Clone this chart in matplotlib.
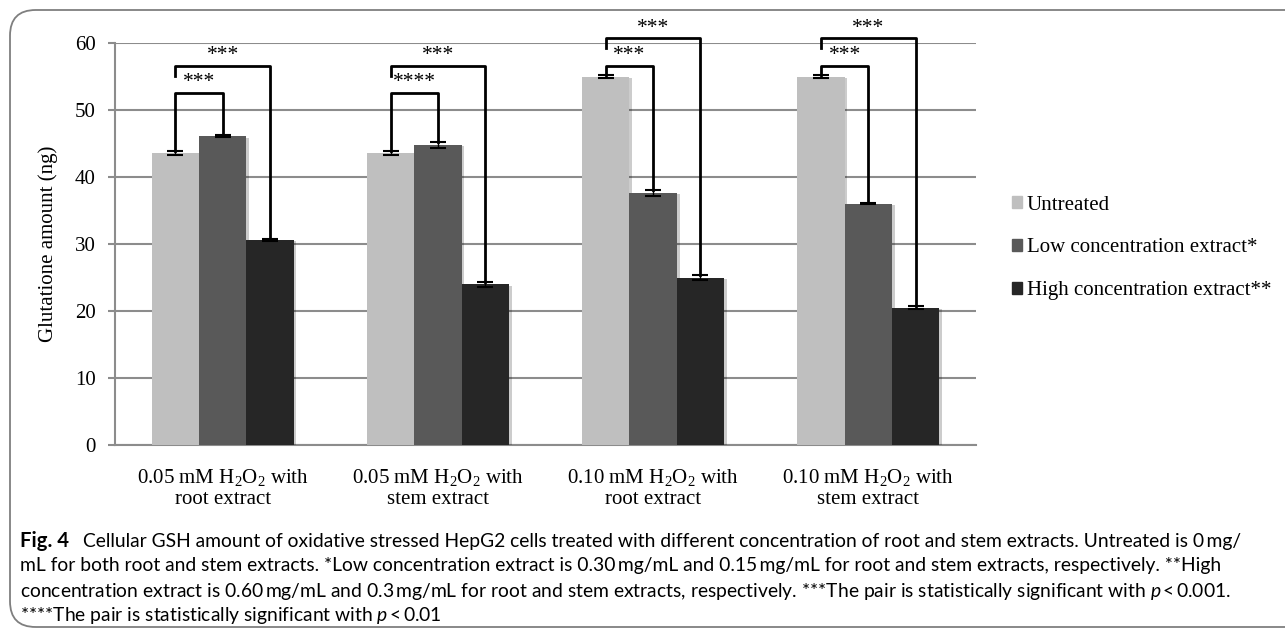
import numpy as np
import matplotlib.pyplot as plt
from matplotlib.patches import FancyBboxPatch, Rectangle
import matplotlib.patheffects as pe

plt.rcParams['font.family'] = ['Liberation Serif', 'DejaVu Serif']
plt.rcParams['mathtext.fontset'] = 'custom'
plt.rcParams['mathtext.it'] = 'Lato:italic'
plt.rcParams['mathtext.rm'] = 'Lato'

groups = ["0.05 mM $\\mathregular{H_2O_2}$ with\nroot extract",
          "0.05 mM $\\mathregular{H_2O_2}$ with\nstem extract",
          "0.10 mM $\\mathregular{H_2O_2}$ with\nroot extract",
          "0.10 mM $\\mathregular{H_2O_2}$ with\nstem extract"]
series = ["Untreated", "Low concentration extract*", "High concentration extract**"]
untreated = [43.6, 43.6, 55.0, 55.0]
low = [46.1, 44.8, 37.6, 36.0]
high = [30.6, 24.0, 25.0, 20.5]
untreated_err = [0.3, 0.3, 0.2, 0.2]
low_err = [0.2, 0.4, 0.4, 0.1]
high_err = [0.2, 0.4, 0.4, 0.2]

# significance brackets: untreated vs low (inner), untreated vs high (outer)
inner_labels = ["***", "****", "***", "***"]
outer_labels = ["***", "***", "***", "***"]
inner_level = [52.6, 52.6, 56.6, 56.6]
outer_level = [56.6, 56.6, 60.7, 60.7]

colors = ["#bfbfbf", "#595959", "#262626"]
grid_col = "#8c8c8c"

fig = plt.figure(figsize=(12.85, 6.3), dpi=100)
ax = fig.add_axes([115/1285, 1-445/630, 861/1285, 402/630])

x = np.arange(len(groups))
w = 0.22
vals = [untreated, low, high]
errs = [untreated_err, low_err, high_err]
shadow = [pe.SimplePatchShadow(offset=(2, -1), shadow_rgbFace="#000000", alpha=0.2), pe.Normal()]
for i in range(3):
    bars = ax.bar(x + (i-1)*w, vals[i], w, color=colors[i], label=series[i], zorder=3)
    for b in bars:
        b.set_path_effects(shadow)
    ax.errorbar(x + (i-1)*w, vals[i], yerr=errs[i], fmt="none", ecolor="black",
                elinewidth=1, capsize=6, capthick=1.5, zorder=4)

for g in range(len(groups)):
    xu, xl, xh = x[g] - w, x[g], x[g] + w
    tu = untreated[g] + untreated_err[g]
    tl = low[g] + low_err[g]
    th = high[g] + high_err[g]
    yi = inner_level[g]
    yo = outer_level[g]
    ax.plot([xu, xu, xl, xl], [tu, yi, yi, tl], color="black", lw=2, clip_on=False, zorder=5)
    ax.plot([xu, xu, xh, xh], [yo - 1.5, yo, yo, th], color="black", lw=2, clip_on=False, zorder=5)
    ax.text((xu + xl)/2, yi + 0.1, inner_labels[g], ha="center", va="bottom", fontsize=15.5)
    ax.text((xu + xh)/2, yo + 0.1, outer_labels[g], ha="center", va="bottom", fontsize=15.5)

ax.set_xlim(-0.5, 3.5)
ax.set_ylim(0, 60)
ax.set_yticks(range(0, 61, 10))
ax.yaxis.grid(True, color=grid_col, lw=1.5, zorder=0)
ax.set_axisbelow(True)
for s in ["top", "right"]:
    ax.spines[s].set_visible(False)
for s in ["left", "bottom"]:
    ax.spines[s].set_color(grid_col)
    ax.spines[s].set_linewidth(1.5)
ax.tick_params(axis="y", length=5, width=1.5, color=grid_col, labelsize=15, pad=9)
ax.tick_params(axis="x", length=0, labelsize=15, pad=16)
ax.set_xticks(x)
ax.set_xticklabels(groups, linespacing=1.15)
ax.set_ylabel("Glutatione amount (ng)", fontsize=15, labelpad=12)

handles = [Rectangle((0, 0), 1, 1, color=c) for c in colors]
fig.legend(handles, series, loc="center left", bbox_to_anchor=(1012/1285, 1-248/630),
           frameon=False, fontsize=15, handlelength=0.5, handleheight=0.5,
           handletextpad=0.2, labelspacing=1.15, borderpad=0, borderaxespad=0)

# outer frame
frame = FancyBboxPatch((10/1285, 1-627/630), 1.2, 617/630, boxstyle="round,pad=0,rounding_size=0.02",
                       transform=fig.transFigure, fill=False, ec="#7f7f7f", lw=1.3,
                       mutation_aspect=1285/630, clip_on=False)
fig.patches.append(frame)

cap_font = ['Lato', 'DejaVu Sans']
ts = "\u2009"
cap_lines = [
    "Cellular GSH amount of oxidative stressed HepG2 cells treated with different concentration of root and stem extracts. Untreated is 0" + ts + "mg/",
    "mL for both root and stem extracts. *Low concentration extract is 0.30" + ts + "mg/mL and 0.15" + ts + "mg/mL for root and stem extracts, respectively. **High",
    "concentration extract is 0.60" + ts + "mg/mL and 0.3" + ts + "mg/mL for root and stem extracts, respectively. ***The pair is statistically significant with $p$" + ts + "<" + ts + "0.001.",
    "****The pair is statistically significant with $p$" + ts + "<" + ts + "0.01",
]
cap_y = [541, 566, 591, 615]
cap_x = [83, 20, 20, 20]
cap_w = [1150, 1205, 1208, 422]
fs = 12
texts = []
for line, xx, yy in zip(cap_lines, cap_x, cap_y):
    texts.append(fig.text(xx/1285, 1-yy/630, line, fontsize=fs, family=cap_font, va="center"))
fig_lbl = fig.text(20/1285, 1-cap_y[0]/630, "Fig. 4", fontsize=fs, family=cap_font,
                   weight="bold", va="center")

# fit caption font size to the reference line widths
fig.canvas.draw()
r = fig.canvas.get_renderer()
ratios = [tw / t.get_window_extent(r).width for t, tw in zip(texts, cap_w)]
fs2 = fs * float(np.mean(ratios))
for t in texts:
    t.set_fontsize(fs2)
fig_lbl.set_fontsize(fs2 * 1.05)

fig.savefig("out.png", dpi=100)
